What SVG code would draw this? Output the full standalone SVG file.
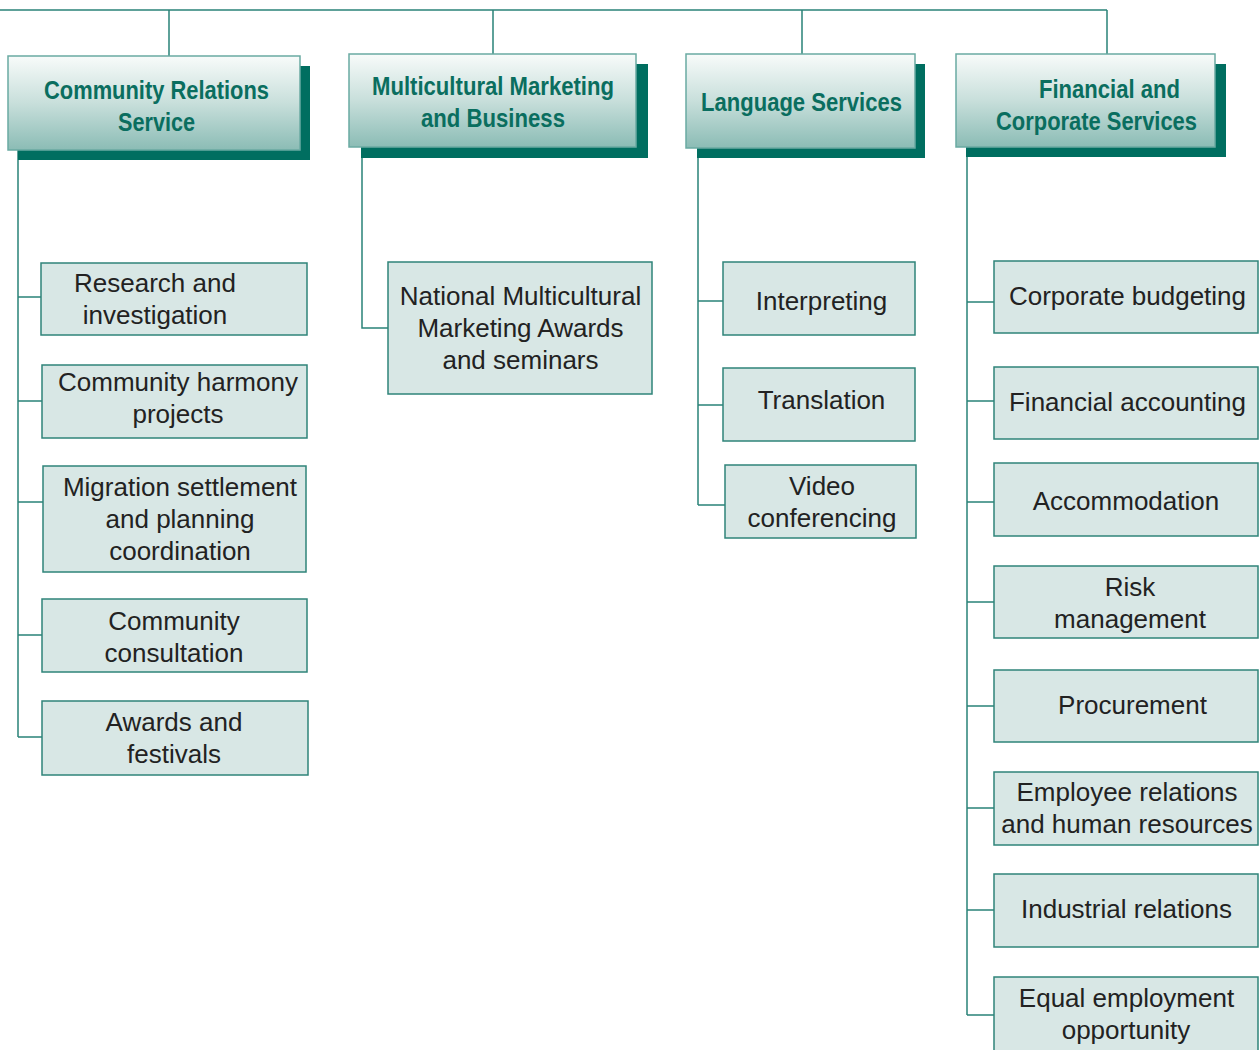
<svg xmlns="http://www.w3.org/2000/svg" width="1260" height="1050" viewBox="0 0 1260 1050">
<defs>
<linearGradient id="hg" x1="0" y1="0" x2="0" y2="1">
<stop offset="0" stop-color="#f8fbfa"/>
<stop offset="0.5" stop-color="#c8dfdb"/>
<stop offset="1" stop-color="#8bbcb5"/>
</linearGradient>
<style>
.conn{fill:none;stroke:#2a8378;stroke-width:1.5}
.shadow{fill:#006e60}
.head{fill:url(#hg);stroke:#6aaaa2;stroke-width:1.5}
.ht{font-family:"Liberation Sans",Arial,sans-serif;font-weight:bold;font-size:26px;fill:#0a6e5f;text-anchor:middle}
.box{fill:#d8e7e5;stroke:#2f8479;stroke-width:1.5}
.t{font-family:"Liberation Sans",Arial,sans-serif;font-size:26px;fill:#222;text-anchor:middle}
</style>
</defs>
<rect width="1260" height="1050" fill="#fff"/>
<g id="connectors">
<path class="conn" d="M0,10 H1107 M169,10 V56 M493,10 V54 M802,10 V54 M1107,10 V54"/>
<path class="conn" d="M18,150 V737 M18,297 H41 M18,401 H42 M18,502 H43 M18,635 H42 M18,737 H42"/>
<path class="conn" d="M362,158 V328 H388"/>
<path class="conn" d="M698,158 V505 M698,301 H723 M698,405 H723 M698,505 H725"/>
<path class="conn" d="M967,157 V1015 M967,302 H994 M967,401 H994 M967,502 H994 M967,602 H994 M967,706 H994 M967,808 H994 M967,910 H994 M967,1015 H994"/>
</g>
<g id="h1">
<rect class="shadow" x="18" y="66" width="292" height="94"/>
<rect class="head" x="8" y="56" width="292" height="94"/>
<text class="ht" x="156.5" y="99" textLength="225" lengthAdjust="spacingAndGlyphs">Community Relations</text>
<text class="ht" x="156.5" y="131" textLength="77" lengthAdjust="spacingAndGlyphs">Service</text>
</g>
<g id="h2">
<rect class="shadow" x="361" y="64" width="287" height="94"/>
<rect class="head" x="349" y="54" width="287" height="93"/>
<text class="ht" x="493" y="95" textLength="242" lengthAdjust="spacingAndGlyphs">Multicultural Marketing</text>
<text class="ht" x="493" y="127" textLength="144" lengthAdjust="spacingAndGlyphs">and Business</text>
</g>
<g id="h3">
<rect class="shadow" x="697" y="64" width="228" height="94"/>
<rect class="head" x="686" y="54" width="229" height="94"/>
<text class="ht" x="801.5" y="111" textLength="201" lengthAdjust="spacingAndGlyphs">Language Services</text>
</g>
<g id="h4">
<rect class="shadow" x="966" y="64" width="260" height="93"/>
<rect class="head" x="956" y="54" width="259" height="93"/>
<text class="ht" x="1109.5" y="98" textLength="141" lengthAdjust="spacingAndGlyphs">Financial and</text>
<text class="ht" x="1096.5" y="130" textLength="201" lengthAdjust="spacingAndGlyphs">Corporate Services</text>
</g>
<g id="n-research">
<rect class="box" x="41" y="263" width="266" height="72"/>
<text class="t" x="155" y="292">Research and</text>
<text class="t" x="155" y="324">investigation</text>
</g>
<g id="n-harmony">
<rect class="box" x="42" y="365" width="265" height="73"/>
<text class="t" x="178" y="391">Community harmony</text>
<text class="t" x="178" y="423">projects</text>
</g>
<g id="n-migration">
<rect class="box" x="43" y="466" width="263" height="106"/>
<text class="t" x="180" y="496">Migration settlement</text>
<text class="t" x="180" y="528">and planning</text>
<text class="t" x="180" y="560">coordination</text>
</g>
<g id="n-consultation">
<rect class="box" x="42" y="599" width="265" height="73"/>
<text class="t" x="174" y="630">Community</text>
<text class="t" x="174" y="662">consultation</text>
</g>
<g id="n-awards">
<rect class="box" x="42" y="701" width="266" height="74"/>
<text class="t" x="174" y="731">Awards and</text>
<text class="t" x="174" y="763">festivals</text>
</g>
<g id="n-national">
<rect class="box" x="388" y="262" width="264" height="132"/>
<text class="t" x="520.5" y="305">National Multicultural</text>
<text class="t" x="520.5" y="337">Marketing Awards</text>
<text class="t" x="520.5" y="369">and seminars</text>
</g>
<g id="n-interpreting">
<rect class="box" x="723" y="262" width="192" height="73"/>
<text class="t" x="821.5" y="310">Interpreting</text>
</g>
<g id="n-translation">
<rect class="box" x="723" y="368" width="192" height="73"/>
<text class="t" x="821.5" y="409">Translation</text>
</g>
<g id="n-video">
<rect class="box" x="725" y="465" width="191" height="73"/>
<text class="t" x="822" y="495">Video</text>
<text class="t" x="822" y="527">conferencing</text>
</g>
<g id="n-budgeting">
<rect class="box" x="994" y="261" width="264" height="72"/>
<text class="t" x="1127.5" y="305">Corporate budgeting</text>
</g>
<g id="n-accounting">
<rect class="box" x="994" y="367" width="264" height="72"/>
<text class="t" x="1127.5" y="411">Financial accounting</text>
</g>
<g id="n-accommodation">
<rect class="box" x="994" y="463" width="264" height="73"/>
<text class="t" x="1126" y="510">Accommodation</text>
</g>
<g id="n-risk">
<rect class="box" x="994" y="566" width="264" height="72"/>
<text class="t" x="1130" y="596">Risk</text>
<text class="t" x="1130" y="628">management</text>
</g>
<g id="n-procurement">
<rect class="box" x="994" y="670" width="264" height="72"/>
<text class="t" x="1132.5" y="714">Procurement</text>
</g>
<g id="n-employee">
<rect class="box" x="994" y="772" width="264" height="73"/>
<text class="t" x="1127" y="801">Employee relations</text>
<text class="t" x="1127" y="833">and human resources</text>
</g>
<g id="n-industrial">
<rect class="box" x="994" y="874" width="264" height="73"/>
<text class="t" x="1126.5" y="918">Industrial relations</text>
</g>
<g id="n-equal">
<rect class="box" x="994" y="977" width="264" height="76"/>
<text class="t" x="1126.5" y="1007">Equal employment</text>
<text class="t" x="1126" y="1039">opportunity</text>
</g>
</svg>
